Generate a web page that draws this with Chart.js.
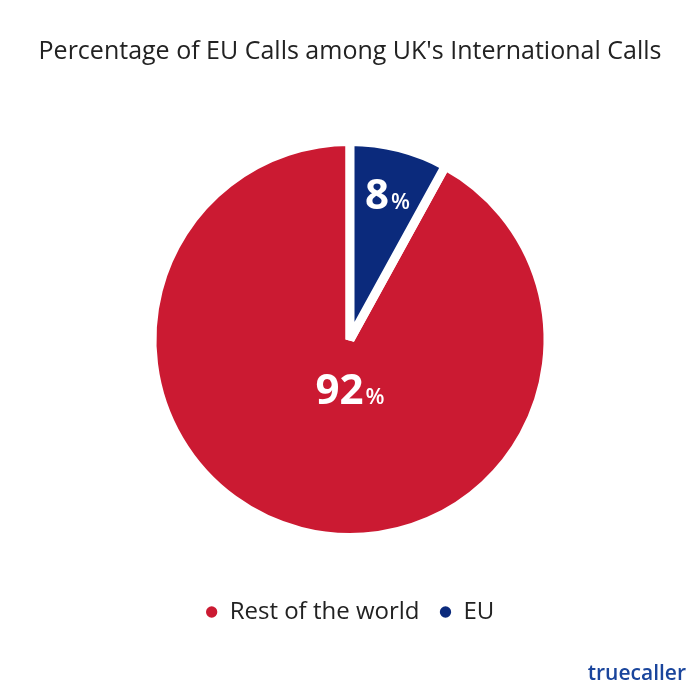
<!DOCTYPE html>
<html lang="en">
<head>
    <meta charset="UTF-8" />
    <title>Percentage of EU Calls among UK's International Calls</title>
    <script src="https://cdn.jsdelivr.net/npm/chart.js"></script>
    <style>
        body { margin: 0; background: #fff; }
        #wrap { width: 700px; height: 700px; position: relative; }
    </style>
</head>
<body>
    <div id="wrap"><canvas id="pieChart" width="700" height="700"></canvas></div>

    <script>
        // data
        const labels = ['Rest of the world', 'EU'];
        const shares = [92, 8];
        const colors = ['#CB1A32', '#0B2A7C'];

        // start so that the EU slice sits just right of 12 o'clock
        const total = shares.reduce((a, b) => a + b, 0);
        const startRotation = shares[1] / total * 360;

        // slice labels: "92%" big number + small percent sign
        const sliceLabels = {
            id: 'sliceLabels',
            afterDatasetsDraw(chart) {
                const ctx = chart.ctx;
                const meta = chart.getDatasetMeta(0);
                // where to put each label: fraction of radius, angle from top (null = middle of slice)
                const spots = [{ f: 0.25, a: 180 }, { f: 0.76, a: null }];
                meta.data.forEach((arc, i) => {
                    const p = arc.getProps(['x', 'y', 'startAngle', 'endAngle', 'outerRadius'], true);
                    let ang = (p.startAngle + p.endAngle) / 2;
                    if (spots[i].a !== null) ang = spots[i].a * Math.PI / 180 - Math.PI / 2;
                    const cx = p.x + Math.cos(ang) * p.outerRadius * spots[i].f;
                    const cy = p.y + Math.sin(ang) * p.outerRadius * spots[i].f;
                    const big = 'bold 42px "Open Sans", sans-serif';
                    const small = '600 22px "Open Sans", sans-serif';
                    ctx.save();
                    ctx.fillStyle = '#fff';
                    ctx.textBaseline = 'alphabetic';
                    ctx.font = big;
                    const num = String(shares[i]);
                    const w1 = ctx.measureText(num).width;
                    ctx.font = small;
                    const w2 = ctx.measureText('%').width;
                    const x0 = cx - (w1 + w2 + 2) / 2;
                    const base = cy + 15;
                    ctx.font = big;
                    ctx.fillText(num, x0, base);
                    ctx.font = small;
                    ctx.fillText('%', x0 + w1 + 2, base);
                    ctx.restore();
                });
            }
        };

        // brand mark bottom right
        const brand = {
            id: 'brand',
            afterDraw(chart) {
                const ctx = chart.ctx;
                ctx.save();
                ctx.font = '600 21px "Open Sans", sans-serif';
                ctx.fillStyle = '#1A459C';
                ctx.textAlign = 'right';
                ctx.textBaseline = 'alphabetic';
                ctx.fillText('truecaller', 686, 680);
                ctx.restore();
            }
        };

        const ctx = document.getElementById('pieChart').getContext('2d');
        new Chart(ctx, {
            type: 'pie',
            data: {
                labels: labels,
                datasets: [{
                    data: shares,
                    backgroundColor: colors,
                    borderColor: '#ffffff',
                    borderWidth: 9,
                    radius: 198
                }]
            },
            options: {
                responsive: false,
                animation: false,
                rotation: startRotation,
                layout: { padding: { bottom: 66 } },
                plugins: {
                    title: {
                        display: true,
                        text: "Percentage of EU Calls among UK's International Calls",
                        color: '#222',
                        font: { family: '"Open Sans", sans-serif', size: 25, weight: 'normal' },
                        padding: { top: 37, bottom: 32 }
                    },
                    legend: {
                        position: 'bottom',
                        labels: {
                            usePointStyle: true,
                            pointStyle: 'circle',
                            boxWidth: 12,
                            boxHeight: 8,
                            padding: 20,
                            color: '#222',
                            font: { family: '"Open Sans", sans-serif', size: 24 },
                            generateLabels(chart) {
                                const items = Chart.overrides.pie.plugins.legend.labels.generateLabels(chart);
                                items.forEach(it => { it.lineWidth = 0; it.strokeStyle = it.fillStyle; });
                                return items;
                            }
                        }
                    },
                    tooltip: { enabled: false }
                }
            },
            plugins: [sliceLabels, brand]
        });
    </script>
</body>
</html>
